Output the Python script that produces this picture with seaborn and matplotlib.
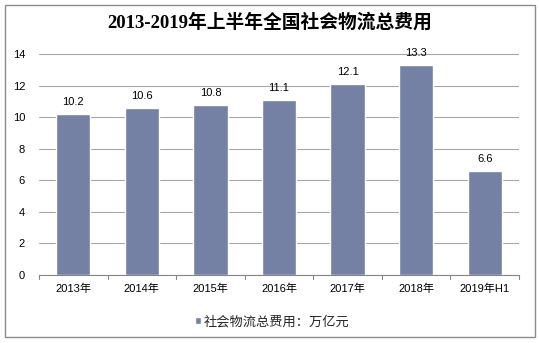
import matplotlib
matplotlib.use("Agg")
import matplotlib.pyplot as plt
import seaborn as sns
import pandas as pd
from matplotlib.patches import Rectangle

categories = ["2013年", "2014年", "2015年", "2016年", "2017年", "2018年", "2019年H1"]
values = [10.2, 10.6, 10.8, 11.1, 12.1, 13.3, 6.6]
series_name = "社会物流总费用：万亿元"
yticks = [0, 2, 4, 6, 8, 10, 12, 14]

sns.set_theme(style="white")
plt.rcParams['font.family'] = ['Liberation Sans', 'Noto Sans CJK SC', 'DejaVu Sans']

df = pd.DataFrame({"cat": categories, "val": values, "series": series_name})

fig = plt.figure(figsize=(5.39, 3.43), dpi=100)
ax = fig.add_axes([39/539, 1-275/343, (519-39)/539, (275-54)/343 * 15/14])

bar_color = "#7480A4"
sns.barplot(data=df, x="cat", y="val", hue="series", palette=[bar_color],
            width=0.5, ax=ax, saturation=1, legend=True)

ax.set_ylim(0, 15)
ax.set_yticks(yticks)
ax.set_xlim(-0.5, len(categories) - 0.5)
ax.yaxis.grid(True, color="#A6A6A6", linewidth=0.8)
ax.set_axisbelow(True)
for s in ["top", "right", "left"]:
    ax.spines[s].set_visible(False)
ax.spines["bottom"].set_color("#868686")
ax.spines["bottom"].set_linewidth(0.8)
ax.set_xlabel("")
ax.set_ylabel("")
ax.tick_params(axis="y", length=0, labelsize=8, colors="#000000", pad=10)
ax.tick_params(axis="x", length=0, labelsize=8, colors="#000000", pad=6)
for x in range(len(categories) + 1):
    ax.plot([x - 0.5, x - 0.5], [0, -0.25], color="#868686", lw=0.8, clip_on=False)

for c in ax.containers:
    ax.bar_label(c, labels=[f"{v:.1f}" for v in values], padding=5, fontsize=8, color="#000000")

leg = ax.legend(loc="center", bbox_to_anchor=(272/539, 1-322/343), bbox_transform=fig.transFigure,
                frameon=False, fontsize=9.5, handlelength=0.5, handleheight=0.5, handletextpad=0.2)

fig.text(0.5, 1-22/343, "2013-2019年上半年全国社会物流总费用", ha="center", va="center",
         fontsize=13.5, fontweight="bold", color="#000000",
         family=['Liberation Serif', 'Noto Sans CJK SC'])

fig.patches.append(Rectangle((5/539, 6/343), 530/539, 332/343, transform=fig.transFigure,
                             fill=False, edgecolor="#8C8C8C", linewidth=1))

fig.savefig("out.png", dpi=100)
